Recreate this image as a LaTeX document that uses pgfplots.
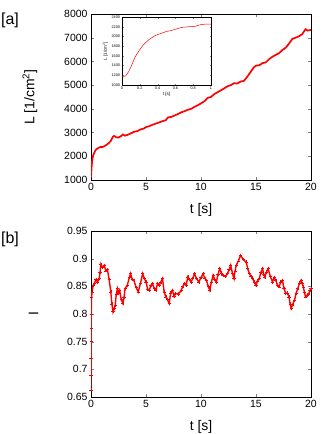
\documentclass[border=0pt]{standalone}
\usepackage{fontspec}
\setmainfont{Liberation Sans}
\usepackage{pgfplots}
\pgfplotsset{compat=1.18}

\pgfplotsset{
  panel/.style={
    scale only axis,
    width=220bp, height=166bp,
    xmin=0, xmax=20,
    xtick={0,5,10,15,20},
    tick align=inside,
    major tick length=3bp,
    axis line style={line width=0.6pt},
    /pgf/number format/assume math mode=true,
    tick label style={font=\fontsize{10.5}{12}\selectfont},
    label style={font=\fontsize{14}{16}\selectfont},
    xlabel={t [s]},
    xlabel style={yshift=-6bp},
  },
}

\begin{document}
\begin{tikzpicture}
\path[use as bounding box] (0bp,0bp) rectangle (332bp,-434bp);

% [a]
\begin{axis}[panel,
  at={(91bp,-14bp)}, anchor=north west,
  ymin=1000, ymax=8000,
  ytick={1000,2000,...,8000},
  ylabel={L [1/cm\textsuperscript{2}]},
  ylabel style={yshift=20bp},
  /pgf/number format/1000 sep={},
]
\addplot[red, line width=1.7pt] coordinates {
(0,1100) (0.05,1500) (0.1,1800) (0.2,2050) (0.3,2150) (0.4,2250) (0.5,2300)
(0.7,2360) (0.9,2400) (1.0,2380) (1.2,2420) (1.4,2480) (1.6,2550) (1.8,2650)
(2.0,2830) (2.1,2860) (2.3,2800) (2.5,2790) (2.7,2840) (2.9,2920) (3.1,2870)
(3.3,2900) (3.6,2960) (3.9,3030) (4.2,3060) (4.5,3130) (4.8,3170) (5.0,3230)
(5.3,3270) (5.6,3330) (5.9,3380) (6.2,3430) (6.5,3480) (6.8,3520) (7.0,3640)
(7.3,3660) (7.6,3720) (7.9,3780) (8.2,3850) (8.5,3900) (8.8,3960) (9.1,4000)
(9.4,4080) (9.7,4150) (10.0,4230) (10.3,4320) (10.6,4460) (10.9,4500)
(11.2,4620) (11.5,4700) (11.8,4780) (12.1,4860) (12.4,4950) (12.7,5000)
(13.0,5080) (13.3,5070) (13.6,5150) (13.9,5180) (14.2,5350) (14.5,5550)
(14.8,5750) (15.0,5820) (15.3,5840) (15.6,5930) (15.9,5960) (16.2,6100)
(16.5,6200) (16.8,6280) (17.1,6350) (17.4,6480) (17.7,6580) (18.0,6750)
(18.3,6950) (18.6,7000) (18.9,7060) (19.2,7150) (19.5,7360) (19.7,7300) (20.0,7330)
};
\end{axis}

% inset
\begin{axis}[
  at={(122bp,-17bp)}, anchor=north west,
  scale only axis, width=89bp, height=68bp,
  xmin=0, xmax=1, ymin=1000, ymax=2400,
  xtick={0,0.2,...,1}, ytick={1000,1200,...,2400},
  tick align=inside, major tick length=1.5bp,
  axis line style={line width=0.4pt},
  /pgf/number format/assume math mode=true,
  /pgf/number format/1000 sep={},
  tick label style={font=\fontsize{3.8}{4.5}\selectfont},
  xticklabel style={yshift=1.5bp},
  yticklabel style={xshift=1.5bp},
  label style={font=\fontsize{4.5}{5}\selectfont},
  xlabel={t [s]}, xlabel style={yshift=4bp},
  ylabel={L [1/cm\textsuperscript{2}]}, ylabel style={yshift=-3bp},
]
\addplot[red, line width=0.5pt] coordinates {
(0,1172) (0.04,1186) (0.075,1276) (0.11,1414) (0.15,1586) (0.19,1703)
(0.24,1828) (0.3,1931) (0.375,2021) (0.45,2069) (0.5,2103) (0.56,2124)
(0.62,2159) (0.67,2186) (0.75,2200) (0.82,2207) (0.88,2241) (0.94,2255) (1,2255)
};
\end{axis}

% [b]
\begin{axis}[panel,
  at={(91bp,-231bp)}, anchor=north west,
  ymin=0.65, ymax=0.95,
  ytick={0.65,0.7,...,0.95},
  yticklabels={0.65,0.7,0.75,0.8,0.85,0.9,0.95},
  ylabel={I},
  ylabel style={yshift=22bp},
]
\addplot[red, line width=1.4pt, mark=+, mark size=1.6pt, mark options={line width=0.6pt}] coordinates {
(0,0.663) (0.004,0.69) (0.008,0.72) (0.012,0.75) (0.016,0.775) (0.02,0.8)
(0.05,0.83) (0.1,0.84) (0.2,0.852) (0.3,0.855)
(0.45,0.862) (0.6,0.858) (0.75,0.864) (0.82,0.875) (0.9,0.89) (1.05,0.884)
(1.2,0.888) (1.35,0.878) (1.5,0.88) (1.65,0.862) (1.8,0.84) (1.9,0.818)
(2.0,0.804) (2.1,0.81) (2.2,0.816) (2.3,0.836) (2.4,0.846) (2.5,0.838)
(2.6,0.843) (2.75,0.826) (2.9,0.819) (3.0,0.83) (3.1,0.846) (3.3,0.852)
(3.5,0.867) (3.6,0.873) (3.75,0.862) (3.9,0.861) (4.1,0.848) (4.3,0.84)
(4.5,0.856) (4.7,0.873) (4.85,0.864) (5.0,0.858) (5.15,0.845) (5.3,0.843)
(5.45,0.852) (5.6,0.855) (5.75,0.846) (5.9,0.843) (6.05,0.855) (6.2,0.852)
(6.35,0.858) (6.5,0.864) (6.65,0.84) (6.8,0.831) (6.95,0.826) (7.1,0.819)
(7.25,0.838) (7.4,0.843) (7.55,0.832) (7.7,0.837) (7.95,0.836) (8.2,0.843)
(8.35,0.85) (8.5,0.855) (8.65,0.852) (8.8,0.867) (8.95,0.862) (9.1,0.858)
(9.25,0.864) (9.4,0.873) (9.6,0.864) (9.8,0.858) (10.0,0.866) (10.2,0.873)
(10.35,0.864) (10.5,0.861) (10.65,0.85) (10.8,0.843) (10.95,0.858) (11.1,0.870)
(11.25,0.862) (11.4,0.858) (11.55,0.872) (11.7,0.882) (11.85,0.874) (12.0,0.870)
(12.2,0.868) (12.4,0.873) (12.55,0.88) (12.7,0.888) (12.85,0.874) (13.0,0.864)
(13.1,0.878) (13.2,0.888) (13.4,0.896) (13.6,0.906) (13.85,0.898) (14.1,0.894)
(14.25,0.882) (14.4,0.873) (14.55,0.868) (14.7,0.864) (14.85,0.858) (15.0,0.852)
(15.15,0.86) (15.3,0.864) (15.45,0.876) (15.6,0.882) (15.7,0.872) (15.8,0.867)
(15.95,0.876) (16.1,0.882) (16.3,0.868) (16.5,0.858) (16.65,0.866) (16.8,0.861)
(16.95,0.852) (17.1,0.849) (17.25,0.858) (17.4,0.861) (17.55,0.846) (17.7,0.837)
(17.85,0.838) (18.0,0.831) (18.1,0.818) (18.2,0.81) (18.35,0.818) (18.5,0.825)
(18.65,0.838) (18.8,0.846) (18.95,0.856) (19.1,0.861) (19.2,0.855) (19.3,0.849)
(19.4,0.84) (19.5,0.831) (19.65,0.834) (19.8,0.837) (19.9,0.842) (20,0.846)
};
\end{axis}

\node[anchor=north west, font=\fontsize{16}{18}\selectfont, inner sep=0] at (1bp,-13bp) {[a]};
\node[anchor=north west, font=\fontsize{16}{18}\selectfont, inner sep=0] at (1bp,-232bp) {[b]};
\end{tikzpicture}
\end{document}
